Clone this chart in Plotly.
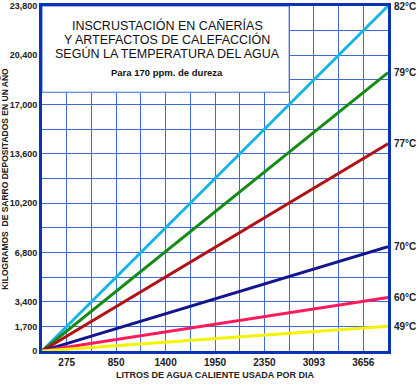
import plotly.graph_objects as go

# ---- data ----
temps = ["82°C", "79°C", "77°C", "70°C", "60°C", "49°C"]
kg_end = [23800, 19200, 14300, 7200, 3700, 1700]   # kg at right edge of chart
colors = ["#1ab4e4", "#168a16", "#b01212", "#14148c", "#ff1a5c", "#f4f400"]
x_pos = [0, 14]            # chart runs from origin to right edge (grid units)
x_tick_pos = [1, 3, 5, 7, 9, 11, 13]
x_tick_text = ["275", "850", "1400", "1950", "2350", "3093", "3656"]
y_ticks = [0, 1700, 3400, 6800, 10200, 13600, 17000, 20400, 23800]
y_tick_text = ["0", "1,700", "3,400", "6,800", "10,200", "13,600", "17,000", "20,400", "23,800"]
title_lines = ["INSCRUSTACIÓN EN CAÑERÍAS", "Y ARTEFACTOS DE CALEFACCIÓN",
               "SEGÚN LA TEMPERATURA DEL AGUA"]
subtitle = "Para 170 ppm. de dureza"

GRID = "#3d6cd8"
BORDER = "#0a32b4"
SANS = "Liberation Sans, Arial"
TXT = "#222"

fig = go.Figure()
for t, v, c in zip(temps, kg_end, colors):
    fig.add_trace(go.Scatter(x=x_pos, y=[0, v], mode="lines",
                             line=dict(color=c, width=3), name=t,
                             showlegend=False, hoverinfo="skip"))
    fig.add_annotation(x=x_pos[-1], y=v, xref="x", yref="y", text=f"<b>{t}</b>",
                       showarrow=False, xanchor="left", yanchor="middle", xshift=4,
                       font=dict(family=SANS, size=10, color=TXT))

# title box
fig.add_shape(type="rect", xref="x", yref="y", x0=0, x1=10, y0=17850, y1=23800,
              fillcolor="white", line=dict(color=GRID, width=1), layer="between")
for i, line in enumerate(title_lines):
    fig.add_annotation(xref="paper", yref="paper", x=0.362, y=1, yanchor="middle",
                       yshift=-19 - 14 * i, text=line, showarrow=False,
                       font=dict(family=SANS, size=12.5, color="#111"))
fig.add_annotation(xref="paper", yref="paper", x=0.362, y=1, yanchor="middle", yshift=-66,
                   text=f"<b>{subtitle}</b>", showarrow=False,
                   font=dict(family=SANS, size=9.5, color="#111"))

# axis titles
fig.add_annotation(xref="paper", yref="paper", x=0.5, y=0, yanchor="middle", yshift=-24,
                   text="<b>LITROS DE AGUA CALIENTE USADA POR DIA</b>", showarrow=False,
                   font=dict(family=SANS, size=9, color=TXT))
fig.add_annotation(xref="paper", yref="paper", x=-0.109, y=0.5, xanchor="center", yanchor="middle",
                   text="<b>KILOGRAMOS  DE SARRO DEPOSITADOS EN UN AÑO</b>", textangle=-90,
                   showarrow=False, font=dict(family=SANS, size=8.5, color=TXT))

fig.update_xaxes(range=[0, 14], tickvals=x_tick_pos,
                 ticktext=[f"<b>{s}</b>" for s in x_tick_text],
                 showgrid=True, gridcolor=GRID, gridwidth=1,
                 minor=dict(dtick=1, tick0=0, showgrid=True, gridcolor=GRID, gridwidth=1),
                 showline=True, linecolor=BORDER, linewidth=3, mirror=True,
                 zeroline=False, ticks="", automargin=False,
                 tickfont=dict(family=SANS, size=10, color=TXT))
fig.update_yaxes(range=[0, 23800], tickvals=y_ticks,
                 ticktext=[f"<b>{s}</b>" for s in y_tick_text],
                 showgrid=True, gridcolor=GRID, gridwidth=1,
                 minor=dict(dtick=1700, tick0=0, showgrid=True, gridcolor=GRID, gridwidth=1),
                 showline=True, linecolor=BORDER, linewidth=3, mirror=True,
                 zeroline=False, ticks="", ticklabelstandoff=0, automargin=False,
                 tickfont=dict(family=SANS, size=9, color=TXT))

fig.update_layout(width=418, height=385,
                  margin=dict(l=42, r=30, t=6, b=34, autoexpand=False),
                  paper_bgcolor="white", plot_bgcolor="white")

fig.write_html("out.html", config={"displayModeBar": False},
               post_script="document.body.style.margin='0';document.body.style.overflow='hidden';")
